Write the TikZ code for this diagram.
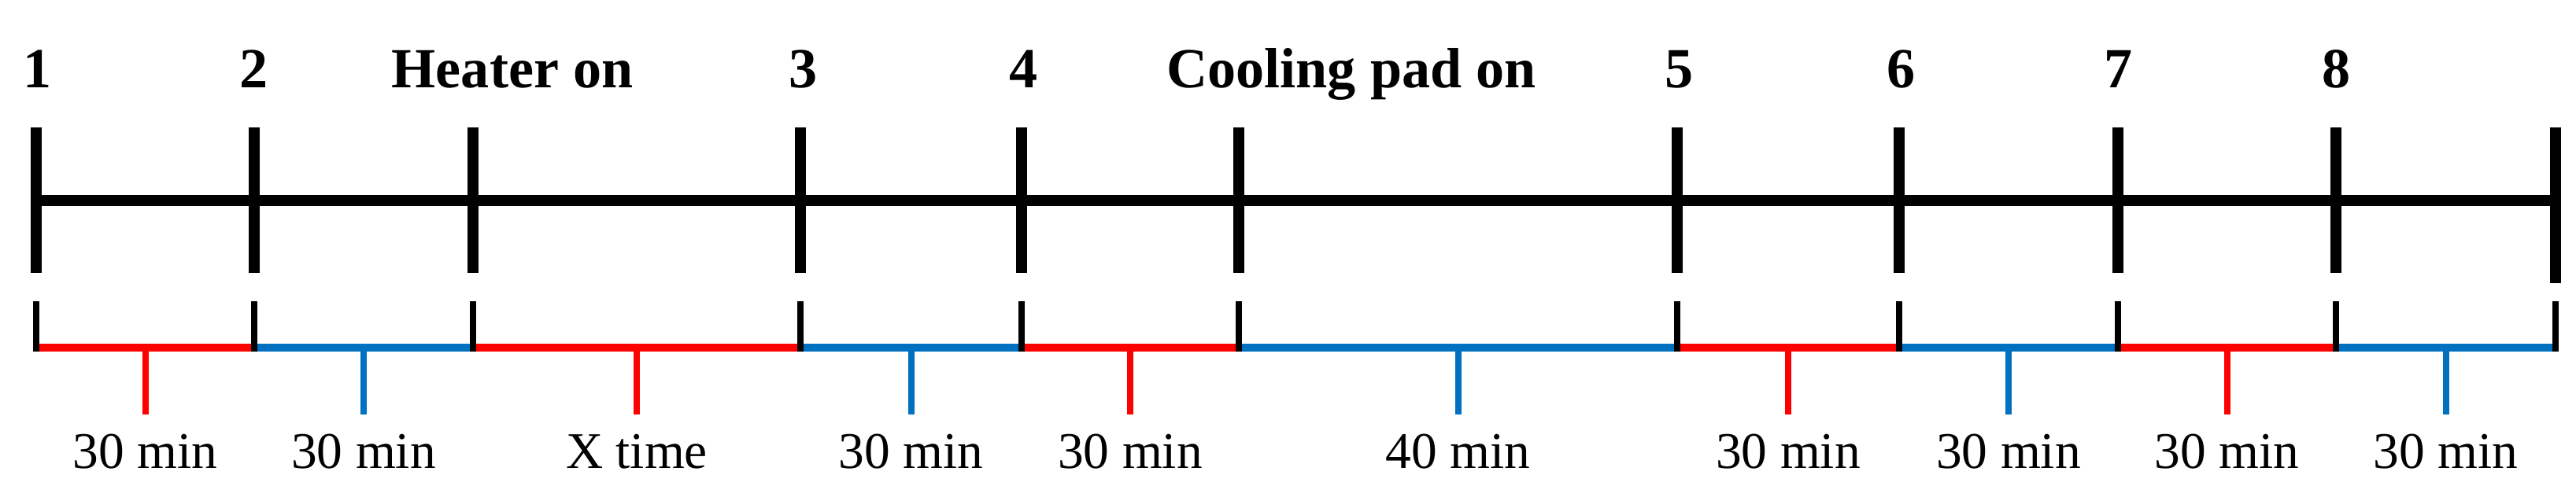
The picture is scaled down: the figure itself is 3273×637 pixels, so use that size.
\documentclass[tikz,border=0pt]{standalone}
\usepackage{fontspec}
\setmainfont{Liberation Serif}
\usetikzlibrary{calc}
\definecolor{hot}{RGB}{255,0,0}
\definecolor{cold}{RGB}{0,112,192}
\tikzset{
  mainline/.style={line width=0.135cm},
  bigtick/.style={line width=0.145cm},
  smalltick/.style={line width=0.075cm},
  seg/.style={line width=0.095cm},
  droptick/.style={line width=0.08cm},
  numlabel/.style={font=\fontsize{20.5}{24}\selectfont\bfseries, anchor=base, inner sep=0pt},
  durlabel/.style={font=\fontsize{18.6}{22}\selectfont, anchor=base, inner sep=0pt},
}
\begin{document}
\begin{tikzpicture}[x=0.01cm,y=-0.01cm]
\useasboundingbox (0,0) rectangle (3273,637);
% tick positions
\foreach \i/\x in {1/46,2/323,3/601,4/1017,5/1298,6/1574,7/2131,8/2413,9/2691,10/2968,11/3247}{
  \coordinate (a\i) at (\x,162);
  \coordinate (m\i) at (\x,255);
  \coordinate (b\i) at (\x,347);
  \coordinate (c\i) at (\x,383);
  \coordinate (s\i) at (\x,442);
  \coordinate (d\i) at (\x,447);
}
\coordinate (b11) at (3247,360);
% main line
\draw[mainline] (m1) -- (m11);
\foreach \i in {1,...,11}{
  \draw[bigtick] (a\i) -- (b\i);
}
% colored segments
\foreach \i/\j/\c/\t in {1/2/hot/30 min,2/3/cold/30 min,3/4/hot/X time,4/5/cold/30 min,5/6/hot/30 min,6/7/cold/40 min,7/8/hot/30 min,8/9/cold/30 min,9/10/hot/30 min,10/11/cold/30 min}{
  \draw[seg,\c] (s\i) -- (s\j);
  \coordinate (p\i) at ($(s\i)!0.5!(s\j)$);
  \coordinate (q\i) at ($(p\i)+(0,85)$);
  \draw[droptick,\c] (p\i) -- (q\i);
  \node[durlabel] (lab\i) at ($(p\i)+(0,153)$) {\t};
}
\foreach \i in {1,...,11}{
  \draw[smalltick] (c\i) -- (d\i);
}
% top labels
\node[numlabel] (n1) at ($(a1)+(2,-50)$) {1};
\node[numlabel] (n2) at ($(a2)+(0,-50)$) {2};
\node[numlabel] (heat) at (651,112) {Heater on};
\node[numlabel] (n3) at ($(a4)+(4,-50)$) {3};
\node[numlabel] (n4) at ($(a5)+(3,-50)$) {4};
\node[numlabel] (cool) at (1717,112) {Cooling pad on};
\node[numlabel] (n5) at ($(a7)+(2,-50)$) {5};
\node[numlabel] (n6) at ($(a8)+(2,-50)$) {6};
\node[numlabel] (n7) at ($(a9)+(0,-50)$) {7};
\node[numlabel] (n8) at ($(a10)+(0,-50)$) {8};
\end{tikzpicture}
\end{document}
